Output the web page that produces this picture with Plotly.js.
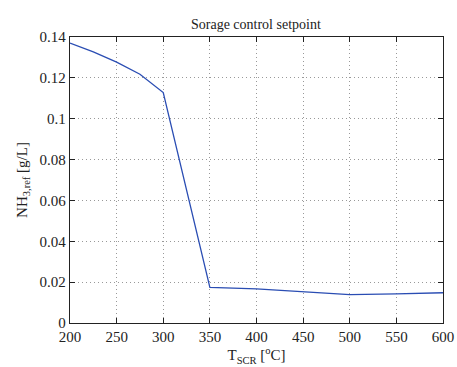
<!DOCTYPE html>
<html><head><meta charset="utf-8">
<script src="https://cdn.plot.ly/plotly-3.0.1.min.js"></script>
<style>body{margin:0;background:#fff}#chart{width:457px;height:367px}</style>
</head><body><div id="chart"></div>
<script>
var temperature = [200, 225, 250, 275, 300, 350, 400, 450, 500, 550, 600];
var nh3Ref = [0.137, 0.1327, 0.1277, 0.1218, 0.1128, 0.0174, 0.0167, 0.0154, 0.0139, 0.0143, 0.0148];
var xTicks = [200, 250, 300, 350, 400, 450, 500, 550, 600];
var yTicks = [0, 0.02, 0.04, 0.06, 0.08, 0.1, 0.12, 0.14];
var yTickText = ['0', '0.02', '0.04', '0.06', '0.08', '0.1', '0.12', '0.14'];
var fam = 'Times New Roman, Liberation Serif, DejaVu Serif, serif';
var font = {family: fam, size: 15, color: '#222'};
Plotly.newPlot('chart', [{
  x: temperature, y: nh3Ref, type: 'scatter', mode: 'lines',
  line: {color: '#2a4db3', width: 1.3}, hoverinfo: 'skip'
}], {
  width: 457, height: 367,
  margin: {l: 70, r: 14, t: 37, b: 44},
  paper_bgcolor: '#fff', plot_bgcolor: '#fff',
  font: font,
  showlegend: false,
  title: {text: 'Sorage control setpoint', font: {family: fam, size: 14, color: '#222'}, x: 0.56, xanchor: 'center', y: 0.935, yanchor: 'middle'},
  xaxis: {
    range: [200, 600], tickvals: xTicks, ticks: 'inside', ticklen: 5, tickcolor: '#222',
    showline: true, linecolor: '#222', linewidth: 1.2, mirror: 'ticks',
    showgrid: true, gridcolor: '#999', griddash: '1px,3px', gridwidth: 1, zeroline: false,
    tickfont: {family: fam, size: 15, color: '#222'},
    title: {text: 'T<sub>SCR</sub> [<sup>o</sup>C]', font: {family: fam, size: 15, color: '#222'}, standoff: 2}
  },
  yaxis: {
    range: [0, 0.14], tickvals: yTicks, ticktext: yTickText, ticks: 'inside', ticklen: 5, tickcolor: '#222',
    showline: true, linecolor: '#222', linewidth: 1.2, mirror: 'ticks',
    showgrid: true, gridcolor: '#999', griddash: '1px,3px', gridwidth: 1, zeroline: false,
    tickfont: {family: fam, size: 15, color: '#222'},
    title: {text: 'NH<sub>3,ref</sub> [g/L]', font: {family: fam, size: 15, color: '#222'}, standoff: 8}
  }
}, {staticPlot: true, displayModeBar: false});
</script></body></html>
